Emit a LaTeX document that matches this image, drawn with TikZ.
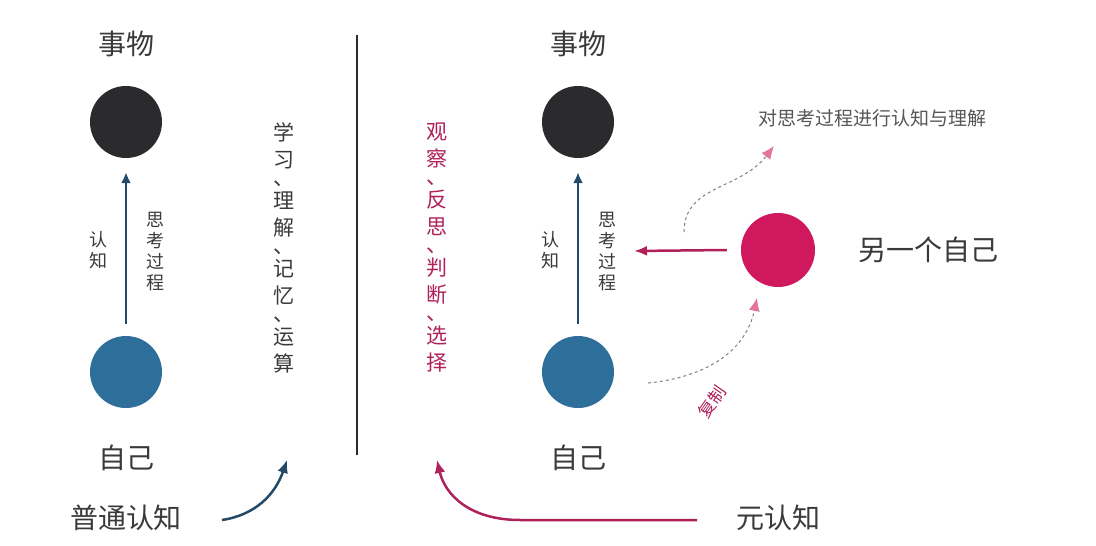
\documentclass[tikz,border=0pt]{standalone}
\usepackage{fontspec}
\setmainfont{Noto Sans CJK SC}
\usetikzlibrary{arrows.meta}
\definecolor{dk}{HTML}{2B2B2D}
\definecolor{bl}{HTML}{2E6E9A}
\definecolor{mg}{HTML}{D0185E}
\definecolor{tx}{HTML}{3A3A3A}
\definecolor{mt}{HTML}{B0205A}
\definecolor{ar}{HTML}{234A66}
\newcommand{\dn}{\\[-9pt]{、}\\[-4pt]}
\begin{document}
\begin{tikzpicture}[x=1pt,y=-1pt,
  dot/.style={circle,minimum size=72pt,inner sep=0pt},
  big/.style={font=\fontsize{28}{28}\selectfont,text=tx},
  vert/.style={align=center,font=\fontsize{18}{21}\selectfont,text=tx},
  vcol/.style={align=center,font=\fontsize{21}{27}\selectfont},
  arr/.style={line width=2.5pt,-{Latex[length=11pt,width=10pt]}},
  dsh/.style={dashed,line width=1pt,gray,-{Latex[length=13pt,width=11pt,color=mg!60]}}]
\useasboundingbox (0,0) rectangle (1096,546);
\fill[white] (0,0) rectangle (1096,546);
% left
\node[big] (t1) at (126,44) {事物};
\node[dot,fill=dk] (o1) at (126,122) {};
\node[dot,fill=bl] (s1) at (126,372) {};
\node[big] (z1) at (126,458) {自己};
\node[big] (p1) at (126,518) {普通认知};
\draw[arr,ar] ([yshift=12pt]s1.north) -- ([yshift=-14pt]o1.south);
\node[vert] (r1) at (98,250) {认\\知};
\node[vert] (g1) at (155,252) {思\\考\\过\\程};
\node[vcol,text=tx] (c1) at (284,248) {学\\习\dn 理\\解\dn 记\\忆\dn 运\\算};
\coordinate (pa) at (222,520);
\coordinate (pb) at (287,460);
\draw[line width=2.5pt,ar,-{Latex[length=13pt,width=11pt]}] (pa) .. controls (255,515) and (275,495) .. (pb);
\coordinate (l1) at (357,35); \coordinate (l2) at (357,455);
\draw[line width=1.5pt,dk] (l1) -- (l2);
% right
\node[big] (t2) at (578,44) {事物};
\node[dot,fill=dk] (o2) at (578,122) {};
\node[dot,fill=bl] (s2) at (578,372) {};
\node[big] (z2) at (578,458) {自己};
\node[big] (p2) at (778,518) {元认知};
\draw[arr,ar] ([yshift=12pt]s2.north) -- ([yshift=-14pt]o2.south);
\node[vert] (r2) at (550,250) {认\\知};
\node[vert] (g2) at (607,252) {思\\考\\过\\程};
\node[vcol,text=mt] (c2) at (437,248) {观\\察\dn 反\\思\dn 判\\断\dn 选\\择};
\node[dot,fill=mg,minimum size=74pt] (m) at (778,250) {};
\node[big] (an) at (928,250) {另一个自己};
\node[font=\fontsize{19}{19}\selectfont,text=tx!85] (dl) at (872,118) {对思考过程进行认知与理解};
\coordinate (ma) at (634,251);
\draw[line width=2.5pt,mt,-{Latex[length=13pt,width=10pt]}] ([xshift=-14pt]m.west) -- (ma);
\coordinate (d1) at (684,232); \coordinate (d2) at (774,146);
\draw[dsh] (d1) .. controls (684,185) and (740,190) .. (d2);
\coordinate (e1) at (648,383); \coordinate (e2) at (757,298);
\draw[dsh] (e1) .. controls (700,378) and (745,355) .. (e2);
\node[rotate=55,font=\fontsize{17}{17}\selectfont,text=mt,inner sep=0pt] (fz) at (712,402) {复制};
\coordinate (qa) at (697,520); \coordinate (qb) at (437,460);
\draw[line width=2.5pt,mt,-{Latex[length=13pt,width=11pt]}] (qa) -- (520,520) .. controls (470,520) and (445,495) .. (qb);
\end{tikzpicture}
\end{document}
